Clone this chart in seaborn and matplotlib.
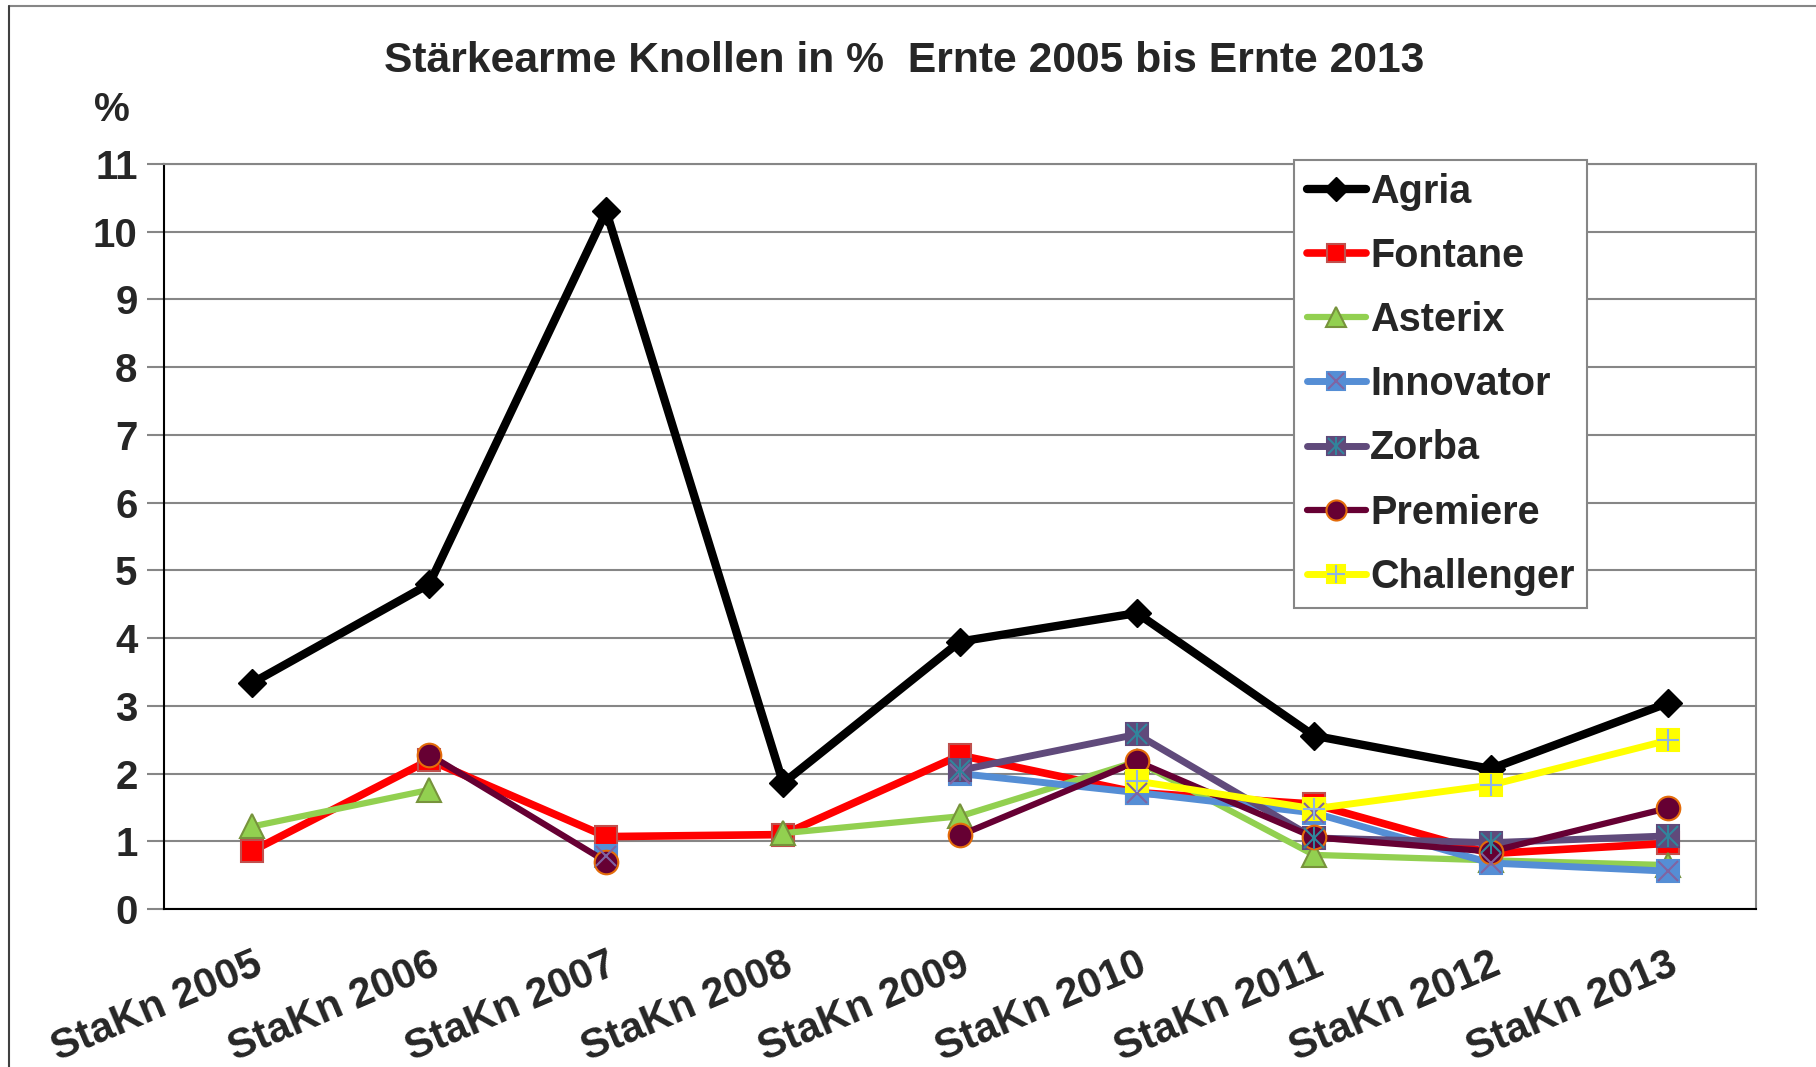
import numpy as np
import pandas as pd
import matplotlib
matplotlib.use("Agg")
import matplotlib.pyplot as plt
from matplotlib.lines import Line2D
from matplotlib.legend_handler import HandlerTuple
import seaborn as sns

nan = np.nan
categories = ["StaKn 2005", "StaKn 2006", "StaKn 2007", "StaKn 2008", "StaKn 2009",
              "StaKn 2010", "StaKn 2011", "StaKn 2012", "StaKn 2013"]
agria      = [3.34, 4.80, 10.30, 1.86, 3.95, 4.37, 2.56, 2.07, 3.04]
fontane    = [0.86, 2.20, 1.07, 1.10, 2.27, 1.72, 1.55, 0.82, 0.97]
asterix    = [1.22, 1.76, nan, 1.12, 1.37, 2.18, 0.80, 0.72, 0.65]
innovator  = [nan, nan, 0.78, nan, 2.00, 1.72, 1.42, 0.68, 0.56]
zorba      = [nan, nan, nan, nan, 2.05, 2.58, 1.05, 0.98, 1.08]
premiere   = [nan, 2.28, 0.70, nan, 1.09, 2.18, 1.06, 0.85, 1.49]
challenger = [nan, nan, nan, nan, nan, 1.89, 1.48, 1.83, 2.49]
yticks = list(range(0, 12))

sns.set_theme(style="white")
plt.rcParams['font.family'] = ['Liberation Sans', 'DejaVu Sans']
plt.rcParams['font.weight'] = 'bold'

fig = plt.figure(figsize=(18.16, 10.67), dpi=100)
ax = fig.add_axes([0.0903, 0.148, 0.8767, 0.6983])

xpos = np.arange(len(categories))

def draw(vals, color, lw, marker, ms, mfc, mec, mew, overlays=()):
    v = np.array(vals, dtype=float)
    seg = np.cumsum(np.isnan(v))
    df = pd.DataFrame({"x": xpos, "y": v, "seg": seg}).dropna()
    sns.lineplot(data=df, x="x", y="y", units="seg", estimator=None, sort=False,
                 color=color, lw=lw, marker=marker, ms=ms, mfc=mfc, mec=mec, mew=mew,
                 ax=ax, legend=False, solid_capstyle='round', zorder=3)
    for om, oc, oms, omw in overlays:
        sns.lineplot(data=df, x="x", y="y", units="seg", estimator=None, sort=False,
                     color=oc, linestyle='none', marker=om, ms=oms, mec=oc, mew=omw,
                     ax=ax, legend=False, zorder=4)
    h = Line2D([], [], color=color, lw=lw, marker=marker, ms=ms * 0.85, mfc=mfc, mec=mec, mew=mew,
               solid_capstyle='round')
    hs = [h] + [Line2D([], [], linestyle='none', marker=om, ms=oms * 0.85, color=oc, mec=oc, mew=omw)
                for om, oc, oms, omw in overlays]
    return tuple(hs) if len(hs) > 1 else h

handles = []
handles.append(draw(agria, "black", 6, "D", 14, "black", "black", 1))
handles.append(draw(fontane, "#FF0000", 5.5, "s", 16, "#FF0000", "#C0504D", 1.5))
handles.append(draw(asterix, "#92D050", 4.5, "^", 17, "#92D050", "#77933C", 1.5))
handles.append(draw(innovator, "#558ED5", 5, "s", 16, "#558ED5", "#558ED5", 1.5,
                    overlays=[("x", "#8064A2", 14, 1.5)]))
handles.append(draw(zorba, "#604A7B", 5, "s", 16, "#604A7B", "#604A7B", 1.5,
                    overlays=[("x", "#31859C", 14, 1.5), ("|", "#31859C", 16, 1.5)]))
handles.append(draw(premiere, "#660033", 4.5, "o", 17, "#660033", "#E46C0A", 1.5))
handles.append(draw(challenger, "#FFFF00", 5, "s", 16, "#FFFF00", "#FFFF00", 1.5,
                    overlays=[("+", "#8EB4E3", 16, 1.5)]))

names = ["Agria", "Fontane", "Asterix", "Innovator", "Zorba", "Premiere", "Challenger"]

ax.set_xlim(-0.5, len(categories) - 0.5)
ax.set_ylim(0, 11)
ax.set_yticks(yticks)
ax.set_yticklabels([str(t) for t in yticks], fontsize=29, fontweight='bold')
ax.yaxis.grid(True, color="#868686", lw=1.5)
ax.set_axisbelow(True)
ax.set_xticks(xpos)
ax.set_xticklabels(categories, fontsize=30, fontweight='bold', rotation=23,
                   ha='right', va='top', rotation_mode='anchor')
ax.set_xticks(np.arange(len(categories) + 1) - 0.5, minor=True)
ax.tick_params(axis='x', which='major', length=0, pad=26)
ax.tick_params(axis='x', which='minor', length=12, width=1.5, color="#868686")
ax.tick_params(axis='y', which='major', length=12, width=1.5, color="#868686", pad=7, left=True)
ax.set_xlabel("")
ax.set_ylabel("")
for s in ["left", "bottom"]:
    ax.spines[s].set_color("black")
    ax.spines[s].set_linewidth(1.5)
for s in ["top", "right"]:
    ax.spines[s].set_color("#868686")
    ax.spines[s].set_linewidth(1.5)

leg = ax.legend(handles, names, loc="upper right", bbox_to_anchor=(0.894, 1.005),
                borderaxespad=0, prop={'weight': 'bold', 'size': 28.5},
                frameon=True, fancybox=False, edgecolor="#868686", framealpha=1,
                handlelength=1.5, handletextpad=0.1, labelspacing=0.66, borderpad=0.32,
                handler_map={tuple: HandlerTuple(ndivide=1, pad=0)})
leg.get_frame().set_linewidth(1.5)
leg.set_zorder(10)

fig.text(0.498, 0.943, "Stärkearme Knollen in %  Ernte 2005 bis Ernte 2013",
         ha='center', va='center', fontsize=30.7, fontweight='bold')
fig.text(112 / 1816, 1 - 110 / 1067, "%", ha='center', va='center', fontsize=29, fontweight='bold')

fig.add_artist(Line2D([9 / 1816, 1], [1 - 6 / 1067, 1 - 6 / 1067], color="#868686", lw=1.5))
fig.add_artist(Line2D([9 / 1816, 9 / 1816], [0, 1 - 6 / 1067], color="#404040", lw=1.5))

fig.savefig("out.png", dpi=100, facecolor="white")
